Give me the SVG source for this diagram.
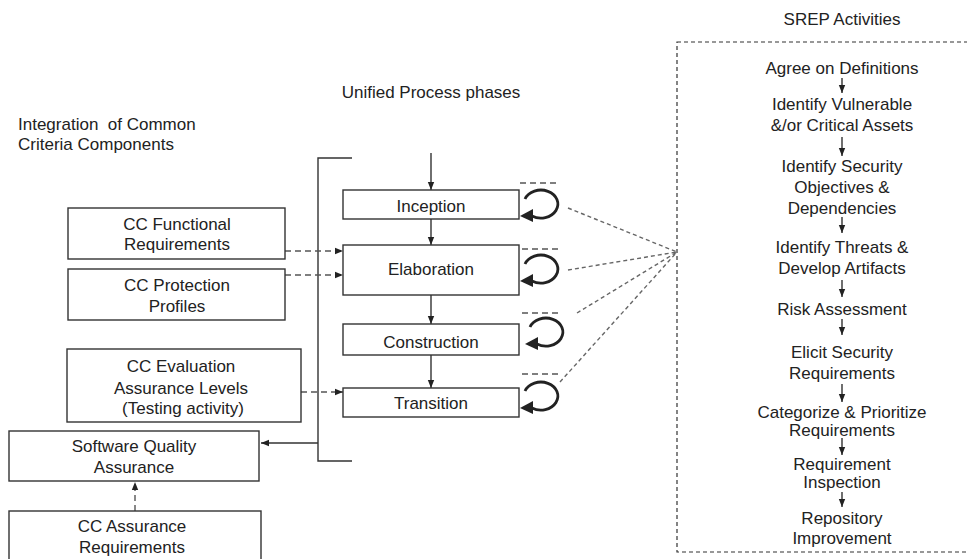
<svg xmlns="http://www.w3.org/2000/svg" width="967" height="559" viewBox="0 0 967 559">
<style>
text{font-family:"Liberation Sans",Arial,sans-serif;font-size:17px;fill:#222}
.c{text-anchor:middle}
.box{fill:#fff;stroke:#333;stroke-width:1.4}
.ln{fill:none;stroke:#333;stroke-width:1.4}
.dash{fill:none;stroke:#555;stroke-width:1.4;stroke-dasharray:6,4}
.dot{fill:none;stroke:#666;stroke-width:1.4;stroke-dasharray:4,3}
.loop{fill:none;stroke:#222;stroke-width:2.8}
.hd{fill:#222}
</style>
<defs>
<marker id="ah" viewBox="0 0 10 10" refX="10" refY="5" markerWidth="8" markerHeight="8" markerUnits="userSpaceOnUse" orient="auto"><path d="M0,1 L10,5 L0,9 Z" fill="#222"/></marker>
</defs>

<g id="titles">
<text x="18" y="130" xml:space="preserve">Integration  of Common</text>
<text x="18" y="150">Criteria Components</text>
<text class="c" x="431" y="98">Unified Process phases</text>
<text class="c" x="842" y="25">SREP Activities</text>
</g>

<g id="connectors">
<polyline class="ln" points="352,158 318,158 318,461 352,461"/>
<line class="ln" x1="318" y1="443" x2="261" y2="443" marker-end="url(#ah)"/>
<line class="ln" x1="431" y1="153" x2="431" y2="190" marker-end="url(#ah)"/>
<line class="ln" x1="431" y1="219" x2="431" y2="245" marker-end="url(#ah)"/>
<line class="ln" x1="431" y1="295" x2="431" y2="324" marker-end="url(#ah)"/>
<line class="ln" x1="431" y1="355" x2="431" y2="388" marker-end="url(#ah)"/>
<line class="dash" x1="285" y1="251" x2="343" y2="251" marker-end="url(#ah)"/>
<line class="dash" x1="285" y1="275" x2="343" y2="275" marker-end="url(#ah)"/>
<line class="dash" x1="301" y1="392" x2="343" y2="392" marker-end="url(#ah)"/>
<line class="dash" x1="135" y1="511" x2="135" y2="482" marker-end="url(#ah)"/>
<line class="dash" x1="520" y1="183" x2="557" y2="183"/>
<line class="dash" x1="522" y1="249" x2="559" y2="249"/>
<line class="dash" x1="522" y1="313" x2="559" y2="313"/>
<line class="dash" x1="522" y1="374" x2="559" y2="374"/>
<line class="dot" x1="568" y1="208" x2="677" y2="252"/>
<line class="dot" x1="568" y1="270" x2="677" y2="252"/>
<line class="dot" x1="577" y1="313" x2="677" y2="252"/>
<line class="dot" x1="560" y1="382" x2="677" y2="252"/>
<path class="loop" d="M525,199 A17,14 0 1 1 532,216"/>
<path class="hd" d="M520,216 L533,209 L533,222 Z"/>
<path class="loop" d="M525,264 A17,14 0 1 1 532,281"/>
<path class="hd" d="M520,281 L533,274 L533,287 Z"/>
<path class="loop" d="M530,327 A17,14 0 1 1 537,344"/>
<path class="hd" d="M525,344 L538,337 L538,350 Z"/>
<path class="loop" d="M525,391 A17,14 0 1 1 532,408"/>
<path class="hd" d="M520,408 L533,401 L533,414 Z"/>
</g>

<g id="inception"><rect class="box" x="343" y="190" width="176" height="29"/><text class="c" x="431" y="212">Inception</text></g>
<g id="elaboration"><rect class="box" x="343" y="245" width="176" height="50"/><text class="c" x="431" y="275">Elaboration</text></g>
<g id="construction"><rect class="box" x="343" y="324" width="176" height="31"/><text class="c" x="431" y="348">Construction</text></g>
<g id="transition"><rect class="box" x="343" y="388" width="176" height="29"/><text class="c" x="431" y="409">Transition</text></g>

<g id="cc-functional"><rect class="box" x="68" y="208" width="217" height="51"/><text class="c" x="177" y="230">CC Functional</text><text class="c" x="177" y="250">Requirements</text></g>
<g id="cc-protection"><rect class="box" x="68" y="269" width="217" height="51"/><text class="c" x="177" y="291">CC Protection</text><text class="c" x="177" y="312">Profiles</text></g>
<g id="cc-evaluation"><rect class="box" x="67" y="349" width="234" height="73"/><text class="c" x="181" y="372">CC Evaluation</text><text class="c" x="181" y="394">Assurance Levels</text><text class="c" x="183" y="414">(Testing activity)</text></g>
<g id="sqa"><rect class="box" x="9" y="431" width="250" height="50"/><text class="c" x="134" y="452">Software Quality</text><text class="c" x="134" y="473">Assurance</text></g>
<g id="cc-assurance"><rect class="box" x="9" y="511" width="252" height="70"/><text class="c" x="132" y="532">CC Assurance</text><text class="c" x="132" y="553">Requirements</text></g>

<g id="srep">
<rect x="677" y="42" width="320" height="510" fill="none" stroke="#333" stroke-width="1.2" stroke-dasharray="4,3"/>
<text class="c" x="842" y="74">Agree on Definitions</text>
<line class="ln" x1="842" y1="78" x2="842" y2="93" marker-end="url(#ah)"/>
<text class="c" x="842" y="110">Identify Vulnerable</text>
<text class="c" x="842" y="131">&amp;/or Critical Assets</text>
<line class="ln" x1="842" y1="137" x2="842" y2="156" marker-end="url(#ah)"/>
<text class="c" x="842" y="172">Identify Security</text>
<text class="c" x="842" y="193">Objectives &amp;</text>
<text class="c" x="842" y="214">Dependencies</text>
<line class="ln" x1="842" y1="217" x2="842" y2="233" marker-end="url(#ah)"/>
<text class="c" x="842" y="253">Identify Threats &amp;</text>
<text class="c" x="842" y="274">Develop Artifacts</text>
<line class="ln" x1="842" y1="280" x2="842" y2="297" marker-end="url(#ah)"/>
<text class="c" x="842" y="315">Risk Assessment</text>
<line class="ln" x1="842" y1="319" x2="842" y2="335" marker-end="url(#ah)"/>
<text class="c" x="842" y="358">Elicit Security</text>
<text class="c" x="842" y="379">Requirements</text>
<line class="ln" x1="842" y1="384" x2="842" y2="402" marker-end="url(#ah)"/>
<text class="c" x="842" y="418">Categorize &amp; Prioritize</text>
<text class="c" x="842" y="436">Requirements</text>
<line class="ln" x1="842" y1="438" x2="842" y2="455" marker-end="url(#ah)"/>
<text class="c" x="842" y="470">Requirement</text>
<text class="c" x="842" y="488">Inspection</text>
<line class="ln" x1="842" y1="492" x2="842" y2="507" marker-end="url(#ah)"/>
<text class="c" x="842" y="524">Repository</text>
<text class="c" x="842" y="544">Improvement</text>
</g>
</svg>
